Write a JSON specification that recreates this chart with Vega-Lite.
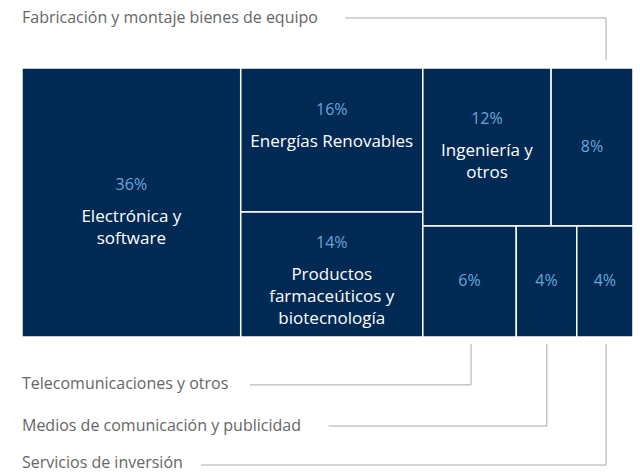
{
  "$schema": "https://vega.github.io/schema/vega-lite/v6.json",
  "width": 640,
  "height": 472,
  "autosize": {"type": "fit", "contains": "padding"},
  "padding": 0,
  "background": "#ffffff",
  "config": {"view": {"stroke": null}},
  "datasets": {
    "cells": [
      {"sector": "Electrónica y software", "pct": 36, "name": "Electrónica y\nsoftware", "x0": 0, "x1": 35.8, "y0": 0, "y1": 100},
      {"sector": "Energías Renovables", "pct": 16, "name": "Energías Renovables", "x0": 35.8, "x1": 65.6, "y0": 0, "y1": 53.5},
      {"sector": "Productos farmacéuticos y biotecnología", "pct": 14, "name": "Productos\nfarmaceúticos y\nbiotecnología", "x0": 35.8, "x1": 65.6, "y0": 53.5, "y1": 100},
      {"sector": "Ingeniería y otros", "pct": 12, "name": "Ingeniería y\notros", "x0": 65.6, "x1": 86.6, "y0": 0, "y1": 58.7},
      {"sector": "Fabricación y montaje bienes de equipo", "pct": 8, "name": "", "x0": 86.6, "x1": 100, "y0": 0, "y1": 58.7},
      {"sector": "Telecomunicaciones y otros", "pct": 6, "name": "", "x0": 65.6, "x1": 80.9, "y0": 58.7, "y1": 100},
      {"sector": "Medios de comunicación y publicidad", "pct": 4, "name": "", "x0": 80.9, "x1": 90.8, "y0": 58.7, "y1": 100},
      {"sector": "Servicios de inversión", "pct": 4, "name": "", "x0": 90.8, "x1": 100, "y0": 58.7, "y1": 100}
    ],
    "leaders": [
      {"id": "fab", "seq": 1, "lx": 52.9, "ly": -18.6},
      {"id": "fab", "seq": 2, "lx": 95.6, "ly": -18.6},
      {"id": "fab", "seq": 3, "lx": 95.6, "ly": -3.0},
      {"id": "tel", "seq": 1, "lx": 73.5, "ly": 102.6},
      {"id": "tel", "seq": 2, "lx": 73.5, "ly": 117.8},
      {"id": "tel", "seq": 3, "lx": 37.3, "ly": 117.8},
      {"id": "med", "seq": 1, "lx": 85.9, "ly": 102.6},
      {"id": "med", "seq": 2, "lx": 85.9, "ly": 133.1},
      {"id": "med", "seq": 3, "lx": 50.2, "ly": 133.1},
      {"id": "ser", "seq": 1, "lx": 95.6, "ly": 102.6},
      {"id": "ser", "seq": 2, "lx": 95.6, "ly": 147.6},
      {"id": "ser", "seq": 3, "lx": 29.3, "ly": 147.6}
    ],
    "labels": [
      {"label": "Fabricación y montaje bienes de equipo", "tx": 0, "ty": -18.6},
      {"label": "Telecomunicaciones y otros", "tx": 0, "ty": 117.5},
      {"label": "Medios de comunicación y publicidad", "tx": 0, "ty": 133.1},
      {"label": "Servicios de inversión", "tx": 0, "ty": 146.8}
    ]
  },
  "layer": [
    {
      "data": {"name": "cells"},
      "mark": {"type": "rect", "fill": "#002a54", "stroke": "#ffffff", "strokeWidth": 1.5},
      "encoding": {
        "x": {"field": "x0", "type": "quantitative", "scale": {"domain": [-3.6, 101.15], "nice": false, "zero": false}, "axis": null},
        "x2": {"field": "x1"},
        "y": {"field": "y0", "type": "quantitative", "scale": {"domain": [-25.28, 150.19], "nice": false, "zero": false, "reverse": true}, "axis": null},
        "y2": {"field": "y1"}
      }
    },
    {
      "data": {"name": "cells"},
      "transform": [
        {"calculate": "(datum.x0 + datum.x1) / 2", "as": "cx"},
        {"calculate": "(datum.y0 + datum.y1) / 2 + (datum.name == '' ? 0 : (0.1 * ((datum.y1 - datum.y0) * 2.69 - 140) + 2 - 32) / 2.69)", "as": "py"},
        {"calculate": "datum.pct + '%'", "as": "ptxt"}
      ],
      "mark": {"type": "text", "font": "Open Sans", "fontSize": 16, "color": "#6aa6da", "align": "center", "baseline": "middle"},
      "encoding": {
        "x": {"field": "cx", "type": "quantitative"},
        "y": {"field": "py", "type": "quantitative"},
        "text": {"field": "ptxt"}
      }
    },
    {
      "data": {"name": "cells"},
      "transform": [
        {"filter": "datum.name != ''"},
        {"calculate": "(datum.x0 + datum.x1) / 2", "as": "cx"},
        {"calculate": "(datum.y0 + datum.y1) / 2 + (0.1 * ((datum.y1 - datum.y0) * 2.69 - 140) + 2) / 2.69", "as": "ny"}
      ],
      "mark": {"type": "text", "font": "Open Sans", "fontSize": 17, "color": "#ffffff", "align": "center", "baseline": "middle", "lineBreak": "\n", "lineHeight": 22},
      "encoding": {
        "x": {"field": "cx", "type": "quantitative"},
        "y": {"field": "ny", "type": "quantitative"},
        "text": {"field": "name"}
      }
    },
    {
      "data": {"name": "leaders"},
      "mark": {"type": "line", "color": "#aaaaaa", "strokeWidth": 1},
      "encoding": {
        "x": {"field": "lx", "type": "quantitative"},
        "y": {"field": "ly", "type": "quantitative"},
        "detail": {"field": "id"},
        "order": {"field": "seq"}
      }
    },
    {
      "data": {"name": "labels"},
      "mark": {"type": "text", "font": "Open Sans", "fontSize": 16, "color": "#666666", "align": "left", "baseline": "middle"},
      "encoding": {
        "x": {"field": "tx", "type": "quantitative"},
        "y": {"field": "ty", "type": "quantitative"},
        "text": {"field": "label"}
      }
    }
  ]
}
